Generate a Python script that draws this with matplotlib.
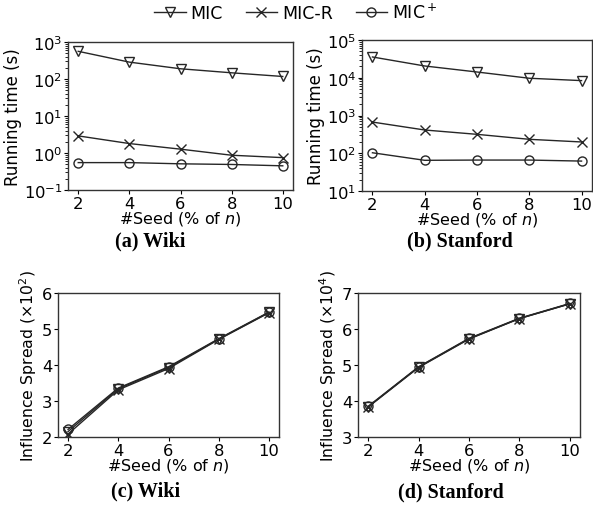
import matplotlib
matplotlib.use("Agg")
import matplotlib.pyplot as plt
from matplotlib.lines import Line2D
from matplotlib.ticker import LogLocator, NullFormatter

seeds = [2, 4, 6, 8, 10]

# Running time (s)
wiki_time_mic = [560, 286, 189, 147, 117]
wiki_time_micr = [2.9, 1.8, 1.27, 0.87, 0.75]
wiki_time_micp = [0.55, 0.55, 0.51, 0.49, 0.45]

stan_time_mic = [35500, 20500, 14200, 9700, 8400]
stan_time_micr = [670, 413, 317, 234, 199]
stan_time_micp = [103, 65, 66, 66, 62]

# Influence spread
wiki_spread_mic = [2.15, 3.34, 3.93, 4.72, 5.46]
wiki_spread_micr = [2.08, 3.31, 3.90, 4.71, 5.45]
wiki_spread_micp = [2.21, 3.36, 3.95, 4.73, 5.47]

stan_spread_mic = [3.84, 4.94, 5.73, 6.29, 6.70]
stan_spread_micr = [3.83, 4.93, 5.72, 6.29, 6.70]
stan_spread_micp = [3.85, 4.95, 5.74, 6.30, 6.71]

labels = ["MIC", "MIC-R", r"MIC$^+$"]
markers = ["v", "x", "o"]

plt.rcParams['font.family'] = ['DejaVu Sans']
fig = plt.figure(figsize=(5.93, 5.10), dpi=100)
W, H = 593, 510

def add_ax(l, r, t, b):
    return fig.add_axes([l / W, 1 - b / H, (r - l) / W, (b - t) / H])

axa = add_ax(68, 293, 43, 191)
axb = add_ax(362, 592, 41, 192)
axc = add_ax(58, 279, 294, 438)
axd = add_ax(358, 580, 294, 438)

line_kw = dict(color="#262626", lw=1.0, markersize=6.5, markerfacecolor="none",
               markeredgecolor="#262626", markeredgewidth=1.0)

def plot_series(ax, series):
    for ys, m in zip(series, markers):
        ax.plot(seeds, ys, marker=m, **line_kw)

plot_series(axa, [wiki_time_mic, wiki_time_micr, wiki_time_micp])
plot_series(axb, [stan_time_mic, stan_time_micr, stan_time_micp])
plot_series(axc, [wiki_spread_mic, wiki_spread_micr, wiki_spread_micp])
plot_series(axd, [stan_spread_mic, stan_spread_micr, stan_spread_micp])

for ax in (axa, axb):
    ax.set_yscale("log")
    ax.yaxis.set_major_locator(LogLocator(base=10, numticks=20))
    ax.yaxis.set_minor_locator(LogLocator(base=10, subs=range(2, 10), numticks=20))
    ax.yaxis.set_minor_formatter(NullFormatter())
    ax.set_ylabel("Running time (s)", fontsize=12, labelpad=1)
axa.set_ylim(0.1, 1000)
axb.set_ylim(10, 1e5)

axc.set_ylim(2, 6)
axc.set_yticks([2, 3, 4, 5, 6])
axd.set_ylim(3, 7)
axd.set_yticks([3, 4, 5, 6, 7])
axc.set_ylabel(r"Influence Spread ($\times 10^2$)", fontsize=11.3, labelpad=2)
axd.set_ylabel(r"Influence Spread ($\times 10^4$)", fontsize=11.3, labelpad=2)

for ax in (axa, axb, axc, axd):
    ax.set_xlim(1.6, 10.4)
    ax.set_xticks(seeds)
    ax.tick_params(labelsize=11.8, length=3, pad=1)
    ax.tick_params(which="minor", length=2)
    ax.set_xlabel(r"#Seed (% of $n$)", fontsize=11.5, labelpad=-1)
    for s in ax.spines.values():
        s.set_color("#333333")
        s.set_linewidth(1.0)

caps = [("(a) Wiki", 150, 241), ("(b) Stanford", 460, 241),
        ("(c) Wiki", 146, 491), ("(d) Stanford", 451, 492)]
for txt, x, y in caps:
    fig.text(x / W, 1 - y / H, txt, ha="center", va="center",
             fontsize=14.5, fontweight="bold", family="Liberation Serif")

handles = [Line2D([], [], marker=m, **line_kw) for m in markers]
fig.legend(handles, labels, loc="center", bbox_to_anchor=(296 / W, 1 - 13 / H),
           ncol=3, frameon=False, fontsize=12.5, handlelength=1.8,
           handletextpad=0.3, columnspacing=1.3, borderaxespad=0)

fig.savefig("out.png", dpi=100)
